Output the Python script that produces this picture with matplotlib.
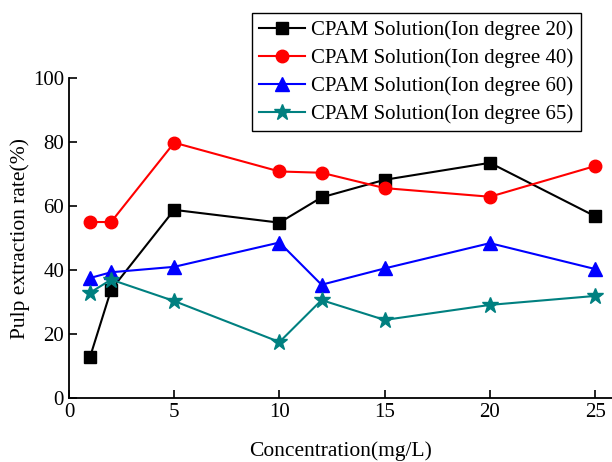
import matplotlib
matplotlib.use("Agg")
import matplotlib.pyplot as plt

conc = [1, 2, 5, 10, 12, 15, 20, 25]
ion20 = [12.8, 33.8, 58.8, 54.8, 62.7, 68.2, 73.5, 56.8]
ion40 = [55.0, 55.0, 79.8, 70.8, 70.4, 65.6, 62.9, 72.5]
ion60 = [37.5, 39.3, 41.0, 48.6, 35.4, 40.5, 48.4, 40.3]
ion65 = [32.9, 37.0, 30.3, 17.5, 30.6, 24.4, 29.1, 31.9]
labels = ["CPAM Solution(Ion degree 20)", "CPAM Solution(Ion degree 40)",
          "CPAM Solution(Ion degree 60)", "CPAM Solution(Ion degree 65)"]

plt.rcParams['font.family'] = ['Liberation Serif', 'DejaVu Serif']

fig = plt.figure(figsize=(6.12, 4.62), dpi=100)
ax = fig.add_axes([0.1127, 0.1385, 0.8873, 0.6926])

styles = [("black", "s", 9), ("red", "o", 9), ("blue", "^", 10), ("#008080", "*", 12)]
for ys, lab, (c, m, ms) in zip([ion20, ion40, ion60, ion65], labels, styles):
    ax.plot(conc, ys, color=c, marker=m, markersize=ms, linewidth=1.5, label=lab)

ax.set_xlim(0, 25.8)
ax.set_ylim(0, 100)
ax.set_xticks([0, 5, 10, 15, 20, 25])
ax.set_yticks([0, 20, 40, 60, 80, 100])
ax.spines['top'].set_visible(False)
ax.spines['right'].set_visible(False)
ax.spines['left'].set_linewidth(1.3)
ax.spines['bottom'].set_linewidth(1.3)
ax.tick_params(direction='in', length=6, width=1.2, labelsize=15)
ax.set_xlabel("Concentration(mg/L)", fontsize=15.5, labelpad=14)
ax.set_ylabel("Pulp extraction rate(%)", fontsize=15.5)
ax.yaxis.set_label_coords(-0.072, 0.5)

fig.legend(loc='upper right', bbox_to_anchor=(0.949, 0.972), fontsize=15,
           frameon=True, fancybox=False, edgecolor='black', framealpha=1,
           borderpad=0.35, labelspacing=0.4, handlelength=2.2, handletextpad=0.3,
           borderaxespad=0)

fig.savefig("out.png", dpi=100)
